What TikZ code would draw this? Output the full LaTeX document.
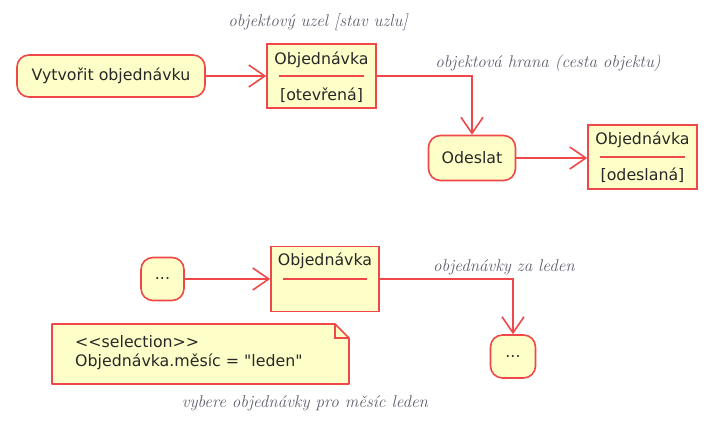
\documentclass[tikz,border=0pt]{standalone}
\usepackage{fontspec}
\newfontfamily\boxfont{DejaVu Sans}[Ligatures=TeXOff]
\usetikzlibrary{arrows.meta}
\definecolor{fillY}{RGB}{254,254,200}
\definecolor{bord}{RGB}{240,72,72}
\definecolor{txt}{RGB}{40,40,40}
\definecolor{lblc}{RGB}{95,95,110}
\tikzset{
  base/.style={draw=bord, fill=fillY, line width=1.6pt, text=txt, inner sep=0pt,
    font=\boxfont\fontsize{15.8}{18}\selectfont},
  act/.style={base, rounded corners=12pt},
  objbox/.style={base},
  intext/.style={text=txt, inner sep=0pt, font=\boxfont\fontsize{15.8}{18}\selectfont},
  lbl/.style={text=lblc, inner sep=0pt, font=\itshape\fontsize{17}{19}\selectfont},
  flow/.style={draw=bord, line width=1.6pt, -{Straight Barb[length=16pt,width=22pt,line width=1.6pt]}},
  divider/.style={draw=bord, line width=1.6pt}
}
\begin{document}
\begin{tikzpicture}[x=1pt,y=-1pt]
\useasboundingbox (0,0) rectangle (722,426);
% top part
\node[act, minimum width=188pt, minimum height=42pt] (vyt) at (111,76) {Vytvořit objednávku};
\node[objbox, minimum width=109pt, minimum height=64pt] (o1) at (321.5,76) {};
\node[intext] (o1a) at (321.5,60) {Objednávka};
\node[intext] (o1b) at (321.5,95) {[otevřená]};
\draw[divider] ([xshift=13pt]o1.west) -- ([xshift=-13pt]o1.east);
\node[lbl] (l1) at (318,22) {objektový uzel [stav uzlu]};

\node[act, minimum width=87pt, minimum height=45pt] (ode) at (472,158) {Odeslat};
\node[objbox, minimum width=109pt, minimum height=64pt] (o2) at (642.5,157) {};
\node[intext] (o2a) at (642.5,140) {Objednávka};
\node[intext] (o2b) at (642.5,175) {[odeslaná]};
\draw[divider] ([xshift=13pt]o2.west) -- ([xshift=-13pt]o2.east);
\node[lbl] (l2) at (548,63) {objektová hrana (cesta objektu)};

\draw[flow] (vyt.east) -- (o1.west);
\draw[flow] (o1.east) -| (ode.north);
\draw[flow] (ode.east) -- (o2.west |- ode.east);

% bottom part
\node[act, minimum width=43pt, minimum height=43pt] (d1) at (162.5,279) {...};
\node[objbox, minimum width=108pt, minimum height=65pt] (o3) at (325,279) {};
\node[intext] (o3a) at (325,261) {Objednávka};
\draw[divider] ([xshift=13pt]o3.west) -- ([xshift=-13pt]o3.east);
\node[act, minimum width=45pt, minimum height=43pt] (d2) at (513,356.5) {...};
\node[lbl] (l3) at (504,267) {objednávky za leden};

\draw[flow] (d1.east) -- (o3.west);
\draw[flow] (o3.east) -| (d2.north);

% note
\coordinate (nA) at (52,324);
\coordinate (nB) at (335,324);
\coordinate (nC) at (349,338);
\coordinate (nD) at (349,384);
\coordinate (nE) at (52,384);
\draw[draw=bord, fill=fillY, line width=1.6pt, line join=round] (nA) -- (nB) -- (nC) -- (nD) -- (nE) -- cycle;
\draw[draw=bord, line width=1.3pt] (nB) -- (nB |- nC) -- (nC);
\node[intext, anchor=west] (n1) at (75,342) {<<selection>>};
\node[intext, anchor=west] (n2) at (75,362) {Objednávka.měsíc = "leden"};
\node[lbl] (l4) at (305,403) {vybere objednávky pro měsíc leden};
\end{tikzpicture}
\end{document}
